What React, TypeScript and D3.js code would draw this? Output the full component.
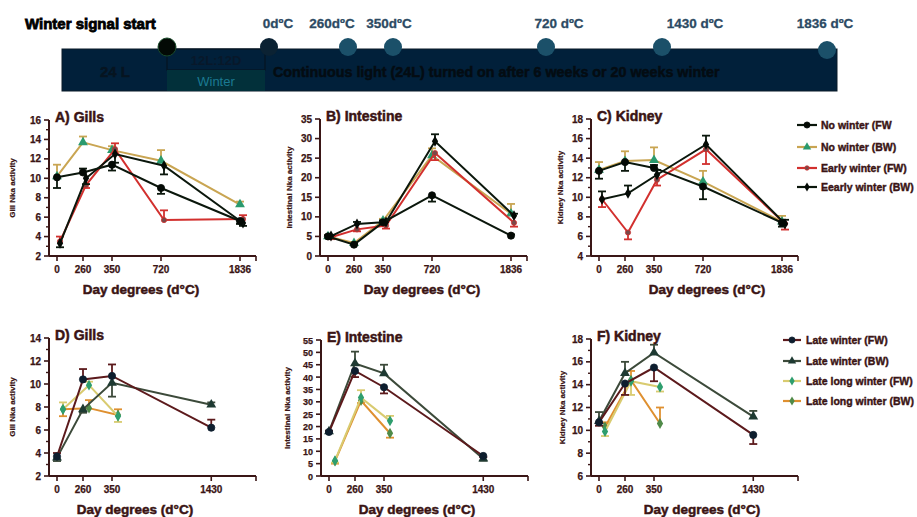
import React from "react";
import * as d3 from "d3";

// ---------- DATA ----------
const xTopTicks = [0, 260, 350, 720, 1836];
const xBottomTicks = [0, 260, 350, 1430];
const xLongTicks = [0, 260, 350];

const topSeriesNames = ["No winter (FW", "No winter (BW)", "Early winter (FW)", "Eearly winter (BW)"];
const bottomSeriesNames = ["Late winter (FW)", "Late winter (BW)", "Late long winter (FW)", "Late long winter (BW)"];

// Panel A – Gills
const gillsNoWinterFW = [10.1, 10.6, 11.4, 9.0, 5.6];
const gillsNoWinterFWErr = [-1.1, 0.4, -0.6, -0.6, -0.3];
const gillsNoWinterBW = [10.2, 13.7, 12.9, 11.8, 7.3];
const gillsNoWinterBWErr = [1.2, 0.6, 0.4, 1.1, 0.3];
const gillsEarlyFW = [3.5, 9.3, 13.0, 5.7, 5.8];
const gillsEarlyFWErr = [0.5, -0.3, 0.6, 1.0, 0.4];
const gillsEarlyBW = [3.3, 10.0, 12.5, 11.3, 5.4];
const gillsEarlyBWErr = [-0.4, -0.6, -0.9, -0.9, -0.3];

// Panel B – Intestine
const intNoWinterFW = [5.0, 2.9, 8.6, 15.5, 5.2];
const intNoWinterFWErr = [0.3, 0.2, 0.5, -1.6, 0.3];
const intNoWinterBW = [5.0, 3.3, 9.0, 25.7, 10.8];
const intNoWinterBWErr = [0.3, 0.3, 0.5, 1.8, 2.5];
const intEarlyFW = [4.8, 6.8, 7.8, 26.3, 8.5];
const intEarlyFWErr = [-0.5, -0.5, -0.8, -1.8, -1.0];
const intEarlyBW = [5.1, 8.2, 8.7, 29.3, 10.3];
const intEarlyBWErr = [0.3, 0.5, 0.5, 1.8, 0.5];

// Panel C – Kidney
const kidNoWinterFW = [12.7, 13.6, 13.0, 11.1, 7.4];
const kidNoWinterFWErr = [-0.8, -0.9, 0.3, -1.3, -0.4];
const kidNoWinterBW = [12.8, 13.7, 13.8, 11.6, 7.5];
const kidNoWinterBWErr = [0.8, 1.0, 1.3, 1.1, 0.6];
const kidEarlyFW = [9.8, 6.4, 11.8, 14.9, 7.3];
const kidEarlyFWErr = [-0.8, -0.7, -0.6, -1.5, -0.6];
const kidEarlyBW = [9.8, 10.4, 12.3, 15.4, 7.3];
const kidEarlyBWErr = [0.8, 0.8, 0.5, 0.9, 0.4];

// Panel D – Gills (late)
const gillsLateFW = [3.7, 10.4, 10.7, 6.2];
const gillsLateFWErr = [0.3, 0.9, 1.0, 0.7];
const gillsLateBW = [3.6, 7.8, 10.1, 8.2];
const gillsLateBWErr = [-0.3, -0.3, -1.2, 0.2];
const gillsLongFW = [7.8, 9.9, 7.2];
const gillsLongFWErr = [0.6, 0.3, -0.5];
const gillsLongBW = [7.8, 7.9, 7.3];
const gillsLongBWErr = [-0.6, 0.7, 0.5];

// Panel E – Intestine (late)
const intLateFW = [17.8, 42.5, 35.9, 8.1];
const intLateFWErr = [0.5, -2.5, -2.5, -0.5];
const intLateBW = [18.0, 45.5, 41.5, 7.0];
const intLateBWErr = [0.3, 4.8, 3.5, -0.8];
const intLongFW = [6.2, 31.7, 22.3];
const intLongFWErr = [-0.8, 3.0, 2.0];
const intLongBW = [6.0, 30.5, 17.3];
const intLongBWErr = [-1.0, -1.0, -1.8];

// Panel F – Kidney (late)
const kidLateFW = [10.7, 14.1, 15.5, 9.6];
const kidLateFWErr = [-0.3, -1.0, -1.2, -0.8];
const kidLateBW = [10.8, 15.0, 16.8, 11.2];
const kidLateBWErr = [0.8, 1.0, 0.7, 0.5];
const kidLongFW = [9.9, 14.3, 13.8];
const kidLongFWErr = [-0.4, -1.2, -0.4];
const kidLongBW = [10.3, 14.4, 10.6];
const kidLongBWErr = [0.4, 0.8, 1.4];

// Timeline banner
const timelineLabels = ["0dºC", "260dºC", "350dºC", "720 dºC", "1430 dºC", "1836 dºC"];
const timelineCircleX = [269, 348, 393, 546, 662, 827];
const timelineLabelX = [278, 332, 389, 559, 695, 825];

// ---------- STYLES ----------
const TXT = "#3a1414";
const AXIS = "#3a1616";
const FONT = "'Liberation Sans', Arial, sans-serif";

type Marker = "circle" | "small" | "triangle" | "diamond";
interface SStyle { line: string; marker: Marker; fill: string; dx: number }

const topStyles: SStyle[] = [
  { line: "#0b170c", marker: "circle", fill: "#040a05", dx: 0 },
  { line: "#c9a552", marker: "triangle", fill: "#2a9a6e", dx: 0 },
  { line: "#d2302e", marker: "small", fill: "#7a4848", dx: 3 },
  { line: "#0b170c", marker: "diamond", fill: "#040a05", dx: 3 },
];
const bottomStyles: SStyle[] = [
  { line: "#5c1a1c", marker: "circle", fill: "#0e1e2e", dx: 0 },
  { line: "#3c4a3a", marker: "triangle", fill: "#1e3a32", dx: 0 },
  { line: "#d9cb70", marker: "diamond", fill: "#2e9e6e", dx: 6 },
  { line: "#df9030", marker: "diamond", fill: "#4f8a48", dx: 6 },
];

interface Series { xs: number[]; ys: number[]; err: number[]; style: SStyle }
interface Panel {
  title: string; ylabel: string; axisX: number; top: number; bottom: number;
  yDomain: [number, number]; step: number; minor: number; ylabelDx: number;
  xTitleCx: number; xticks: number[]; tickFont: number; series: Series[]; order: number[];
}

const mk = (xs: number[], ys: number[], err: number[], style: SStyle): Series => ({ xs, ys, err, style });

const panels: Panel[] = [
  {
    title: "A) Gills", ylabel: "Gill Nka activity", axisX: 49, top: 120, bottom: 256,
    yDomain: [2, 16], step: 2, minor: 1, ylabelDx: -34, xTitleCx: 141, xticks: xTopTicks, tickFont: 10,
    series: [
      mk(xTopTicks, gillsNoWinterFW, gillsNoWinterFWErr, topStyles[0]),
      mk(xTopTicks, gillsNoWinterBW, gillsNoWinterBWErr, topStyles[1]),
      mk(xTopTicks, gillsEarlyFW, gillsEarlyFWErr, topStyles[2]),
      mk(xTopTicks, gillsEarlyBW, gillsEarlyBWErr, topStyles[3]),
    ], order: [1, 2, 3, 0],
  },
  {
    title: "B) Intestine", ylabel: "Intestinal Nka activity", axisX: 320, top: 119, bottom: 256,
    yDomain: [0, 35], step: 5, minor: 0, ylabelDx: -28, xTitleCx: 422, xticks: xTopTicks, tickFont: 10,
    series: [
      mk(xTopTicks, intNoWinterFW, intNoWinterFWErr, topStyles[0]),
      mk(xTopTicks, intNoWinterBW, intNoWinterBWErr, topStyles[1]),
      mk(xTopTicks, intEarlyFW, intEarlyFWErr, topStyles[2]),
      mk(xTopTicks, intEarlyBW, intEarlyBWErr, topStyles[3]),
    ], order: [1, 2, 3, 0],
  },
  {
    title: "C) Kidney", ylabel: "Kidney Nka activity", axisX: 591, top: 119, bottom: 256,
    yDomain: [4, 18], step: 2, minor: 1, ylabelDx: -28, xTitleCx: 707, xticks: xTopTicks, tickFont: 10,
    series: [
      mk(xTopTicks, kidNoWinterFW, kidNoWinterFWErr, topStyles[0]),
      mk(xTopTicks, kidNoWinterBW, kidNoWinterBWErr, topStyles[1]),
      mk(xTopTicks, kidEarlyFW, kidEarlyFWErr, topStyles[2]),
      mk(xTopTicks, kidEarlyBW, kidEarlyBWErr, topStyles[3]),
    ], order: [1, 2, 3, 0],
  },
  {
    title: "D) Gills", ylabel: "Gill Nka activity", axisX: 49, top: 338, bottom: 476,
    yDomain: [2, 14], step: 2, minor: 1, ylabelDx: -34, xTitleCx: 135, xticks: xBottomTicks, tickFont: 10,
    series: [
      mk(xBottomTicks, gillsLateFW, gillsLateFWErr, bottomStyles[0]),
      mk(xBottomTicks, gillsLateBW, gillsLateBWErr, bottomStyles[1]),
      mk(xLongTicks, gillsLongFW, gillsLongFWErr, bottomStyles[2]),
      mk(xLongTicks, gillsLongBW, gillsLongBWErr, bottomStyles[3]),
    ], order: [3, 2, 1, 0],
  },
  {
    title: "E) Intestine", ylabel: "Intestinal Nka activity", axisX: 321, top: 340, bottom: 476,
    yDomain: [0, 55], step: 5, minor: 0, ylabelDx: -31, xTitleCx: 417, xticks: xBottomTicks, tickFont: 9,
    series: [
      mk(xBottomTicks, intLateFW, intLateFWErr, bottomStyles[0]),
      mk(xBottomTicks, intLateBW, intLateBWErr, bottomStyles[1]),
      mk(xLongTicks, intLongFW, intLongFWErr, bottomStyles[2]),
      mk(xLongTicks, intLongBW, intLongBWErr, bottomStyles[3]),
    ], order: [3, 2, 1, 0],
  },
  {
    title: "F) Kidney", ylabel: "Kidney Nka activity", axisX: 591, top: 339, bottom: 476,
    yDomain: [6, 18], step: 2, minor: 1, ylabelDx: -26, xTitleCx: 702, xticks: xBottomTicks, tickFont: 10,
    series: [
      mk(xBottomTicks, kidLateFW, kidLateFWErr, bottomStyles[0]),
      mk(xBottomTicks, kidLateBW, kidLateBWErr, bottomStyles[1]),
      mk(xLongTicks, kidLongFW, kidLongFWErr, bottomStyles[2]),
      mk(xLongTicks, kidLongBW, kidLongBWErr, bottomStyles[3]),
    ], order: [3, 2, 1, 0],
  },
];

// segmented day-degree axis (offsets from y axis)
const xDomainBreaks = [0, 260, 350, 720, 1836, 2050];
const xRangeOffsets = [8, 34, 63, 112, 191, 207];

function MarkerShape({ m, x, y, fill, stroke, k = 1 }: { m: Marker; x: number; y: number; fill: string; stroke: string; k?: number }) {
  if (m === "circle") return <circle cx={x} cy={y} r={3.6 * k} fill={fill} stroke={fill} strokeWidth={0.8} />;
  if (m === "small") return <circle cx={x} cy={y} r={2.6 * k} fill={fill} stroke={stroke} strokeWidth={0.8} />;
  if (m === "triangle") {
    const p = d3.symbol(d3.symbolTriangle, 42 * k * k)();
    return <path d={p || ""} transform={`translate(${x},${y})`} fill={fill} />;
  }
  const p = d3.symbol(d3.symbolDiamond, 34 * k * k)();
  return <path d={p || ""} transform={`translate(${x},${y})`} fill={fill} />;
}

const heavy = { fontWeight: 700, fill: TXT, stroke: TXT, strokeWidth: 0.35, fontFamily: FONT } as const;

function PanelView({ p }: { p: Panel }) {
  const x = d3.scaleLinear().domain(xDomainBreaks).range(xRangeOffsets.map((o) => p.axisX + o));
  const y = d3.scaleLinear().domain(p.yDomain).range([p.bottom, p.top]);
  const majors = d3.range(p.yDomain[0], p.yDomain[1] + 0.001, p.step);
  const minors = p.minor ? d3.range(p.yDomain[0] + p.minor, p.yDomain[1], p.step) : [];
  const xEnd = x(2050);
  const line = d3.line<[number, number]>().x((d) => d[0]).y((d) => d[1]);
  return (
    <g>
      {p.order.map((si) => {
        const s = p.series[si];
        const pts: [number, number][] = s.ys.map((v, i) => [x(s.xs[i]) + s.style.dx, y(v)]);
        return (
          <g key={si}>
            <path d={line(pts) || ""} fill="none" stroke={s.style.line} strokeWidth={2} />
            {s.ys.map((v, i) => {
              const px = x(s.xs[i]) + s.style.dx;
              const ye = y(v + s.err[i]);
              return (
                <g key={i}>
                  <line x1={px} x2={px} y1={y(v)} y2={ye} stroke={s.style.line} strokeWidth={1.8} />
                  <line x1={px - 4} x2={px + 4} y1={ye} y2={ye} stroke={s.style.line} strokeWidth={1.8} />
                </g>
              );
            })}
            {pts.map((pt, i) => (
              <MarkerShape key={i} m={s.style.marker} x={pt[0]} y={pt[1]} fill={s.style.fill} stroke={s.style.line} />
            ))}
          </g>
        );
      })}
      <line x1={p.axisX} x2={p.axisX} y1={p.top} y2={p.bottom} stroke={AXIS} strokeWidth={2} />
      {majors.map((v) => (
        <g key={"ma" + v}>
          <line x1={p.axisX - 5} x2={p.axisX} y1={y(v)} y2={y(v)} stroke={AXIS} strokeWidth={1.6} />
          <text x={p.axisX - 8} y={y(v) + 3.5} textAnchor="end" fontSize={p.tickFont} {...heavy} strokeWidth={0.25}>{v}</text>
        </g>
      ))}
      {minors.map((v) => (
        <line key={"mi" + v} x1={p.axisX - 3} x2={p.axisX} y1={y(v)} y2={y(v)} stroke={AXIS} strokeWidth={1.4} />
      ))}
      <line x1={p.axisX} x2={xEnd} y1={p.bottom} y2={p.bottom} stroke={AXIS} strokeWidth={2} />
      {p.xticks.map((t) => (
        <g key={"xt" + t}>
          <line x1={x(t)} x2={x(t)} y1={p.bottom} y2={p.bottom + 5} stroke={AXIS} strokeWidth={1.6} />
          <text x={x(t)} y={p.bottom + 17} textAnchor="middle" fontSize={10} {...heavy} strokeWidth={0.25}>{t}</text>
        </g>
      ))}
      <line x1={xEnd} x2={xEnd} y1={p.bottom} y2={p.bottom + 5} stroke={AXIS} strokeWidth={1.6} />
      <text x={p.axisX + 6} y={p.top + 2} fontSize={14} {...heavy} strokeWidth={0.5}>{p.title}</text>
      <text x={p.xTitleCx} y={p.bottom + 38} textAnchor="middle" fontSize={13.5} {...heavy} strokeWidth={0.5}>Day degrees (d°C)</text>
      <text transform={`translate(${p.axisX + p.ylabelDx},${(p.top + p.bottom) / 2}) rotate(-90)`} textAnchor="middle" fontSize={8} {...heavy} strokeWidth={0.2}>{p.ylabel}</text>
    </g>
  );
}

function Legend({ names, styles, x0, x1, tx, ys }: { names: string[]; styles: SStyle[]; x0: number; x1: number; tx: number; ys: number[] }) {
  return (
    <g>
      {names.map((n, i) => (
        <g key={n}>
          <line x1={x0} x2={x1} y1={ys[i]} y2={ys[i]} stroke={styles[i].line} strokeWidth={2.2} />
          <MarkerShape m={styles[i].marker} x={(x0 + x1) / 2} y={ys[i]} fill={styles[i].fill} stroke={styles[i].line} k={0.85} />
          <text x={tx} y={ys[i] + 4} fontSize={10.5} {...heavy} strokeWidth={0.4}>{n}</text>
        </g>
      ))}
    </g>
  );
}

function Banner() {
  return (
    <g fontFamily={FONT}>
      <text x={25} y={29} fontSize={15} fontWeight={700} fill="#000" stroke="#000" strokeWidth={0.8}>Winter signal start</text>
      <rect x={62} y={49} width={775} height={42} fill="#01203a" stroke="#0a1a28" strokeWidth={1} />
      <rect x={167} y={49} width={98} height={21} fill="#01203a" stroke="#061520" strokeWidth={1.2} />
      <rect x={167} y={70} width={98} height={21} fill="#02303a" />
      <text x={216} y={65} textAnchor="middle" fontSize={13} fontWeight={700} fill="#08182a">12L:12D</text>
      <text x={216} y={86} textAnchor="middle" fontSize={13} fill="#1b7a92">Winter</text>
      <text x={115} y={77} textAnchor="middle" fontSize={15} fontWeight={700} fill="#061420" stroke="#061420" strokeWidth={0.4}>24 L</text>
      <text x={273} y={77} fontSize={14.3} fontWeight={700} fill="#040c12" stroke="#040c12" strokeWidth={0.5}>Continuous light (24L) turned on after 6 weeks or 20 weeks winter</text>
      <circle cx={167} cy={47} r={9} fill="#030a05" stroke="#1a4a2a" strokeWidth={1} />
      {timelineLabels.map((l, i) => (
        <g key={l}>
          <circle cx={timelineCircleX[i]} cy={i === 5 ? 50 : 47} r={9} fill={i === 0 ? "#0b2233" : "#1b5069"} />
          <text x={timelineLabelX[i]} y={28} textAnchor="middle" fontSize={13.5} fontWeight={700} fill="#2c4a63" stroke="#2c4a63" strokeWidth={0.3}>{l}</text>
        </g>
      ))}
    </g>
  );
}

export default function App() {
  return (
    <svg width={917} height={517} style={{ position: "absolute", left: 0, top: 0, background: "#fff" }}>
      <rect width={917} height={517} fill="#fff" />
      <Banner />
      {panels.map((p) => <PanelView key={p.title} p={p} />)}
      <Legend names={topSeriesNames} styles={topStyles} x0={797} x1={817} tx={821} ys={[125, 147, 168, 187]} />
      <Legend names={bottomSeriesNames} styles={bottomStyles} x0={783} x1={801} tx={806} ys={[340, 361, 381, 401]} />
    </svg>
  );
}
